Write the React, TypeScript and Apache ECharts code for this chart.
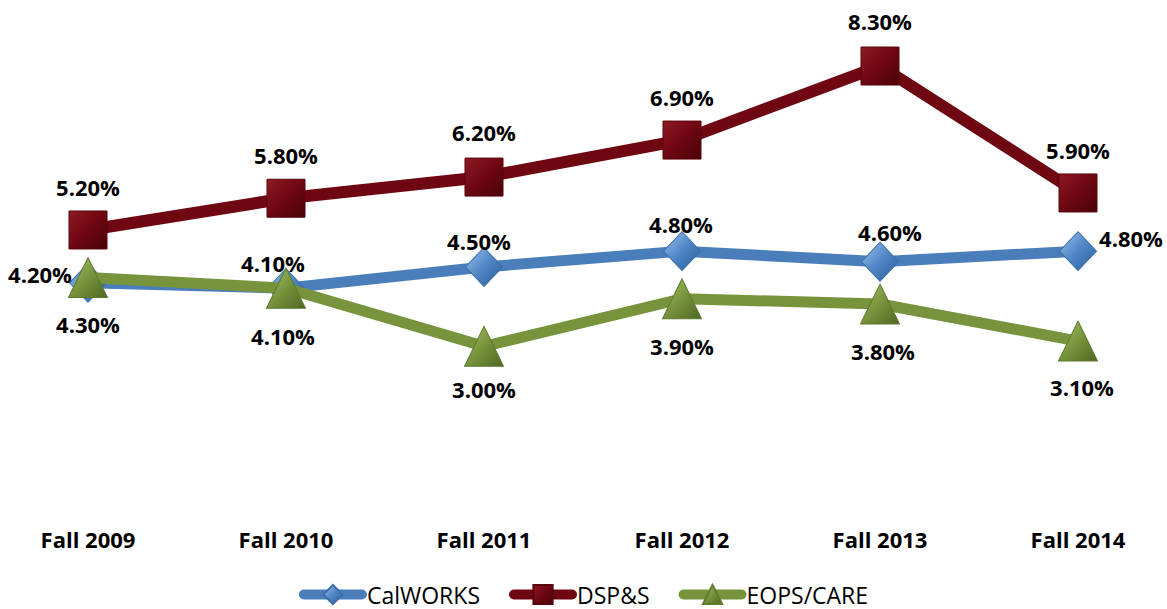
import React, { useEffect, useRef } from "react";
import * as echarts from "echarts";

const categories = ["Fall 2009", "Fall 2010", "Fall 2011", "Fall 2012", "Fall 2013", "Fall 2014"];
const seriesNames = ["CalWORKS", "DSP&S", "EOPS/CARE"];
const calworks = [4.2, 4.1, 4.5, 4.8, 4.6, 4.8];
const dsps = [5.2, 5.8, 6.2, 6.9, 8.3, 5.9];
const eops = [4.3, 4.1, 3.0, 3.9, 3.8, 3.1];

// label offsets (styling, relative to each point)
const calworksLabelOffsets = [[-48, -9], [-13, -25], [-5, -26], [-1, -27], [10, -30], [53, -13]];
const dspsLabelOffsets = [[0, -43], [0, -43], [0, -45], [0, -43], [0, -45], [0, -43]];
const eopsLabelOffsets = [[0, 46], [-3, 48], [0, 43], [0, 47], [3, 47], [4, 46]];

const FONT = "'Open Sans', 'Noto Sans', sans-serif";

function grad(top: string, mid: string, bottom: string) {
  return new echarts.graphic.LinearGradient(0, 0, 1, 1, [
    { offset: 0, color: top },
    { offset: 0.5, color: mid },
    { offset: 1, color: bottom },
  ]);
}

function buildData(values: number[], offsets: number[][]) {
  return values.map((v, i) => ({
    value: v,
    label: { offset: offsets[i] },
  }));
}

export default function App() {
  const ref = useRef<HTMLDivElement>(null);
  useEffect(() => {
    if (!ref.current) return;
    const chart = echarts.init(ref.current, undefined, { renderer: "svg" });
    const labelBase = {
      show: true,
      position: "inside",
      formatter: (p: any) => Number(p.value).toFixed(2) + "%",
      fontFamily: FONT,
      fontWeight: "bold",
      fontSize: 22,
      color: "#000",
    };
    chart.setOption({
      animation: false,
      backgroundColor: "#fff",
      grid: { left: 88, right: 89, top: 29, bottom: 104, containLabel: false },
      xAxis: {
        type: "category",
        data: categories,
        boundaryGap: false,
        axisLine: { show: false },
        axisTick: { show: false },
        axisLabel: {
          margin: 23,
          fontFamily: FONT,
          fontWeight: "bold",
          fontSize: 22,
          color: "#000",
        },
      },
      yAxis: {
        type: "value",
        min: 0,
        max: 9,
        interval: 1,
        show: false,
        splitLine: { show: false },
      },
      legend: {
        data: seriesNames,
        top: 583,
        left: "center",
        padding: 0,
        itemWidth: 58,
        itemHeight: 24,
        itemGap: 29,
        lineStyle: { width: 10, cap: "round" },
        textStyle: { fontFamily: FONT, fontSize: 23, color: "#000" },
      },
      series: [
        {
          name: seriesNames[0],
          type: "line",
          data: buildData(calworks, calworksLabelOffsets),
          symbol: "diamond",
          symbolSize: [37, 39],
          lineStyle: { color: "#4A7EBB", width: 11 },
          itemStyle: { color: grad("#9CC3EE", "#4F86C6", "#2B5C97"), borderColor: "#3B6EA8", borderWidth: 1 },
          label: labelBase,
          z: 2,
        },
        {
          name: seriesNames[1],
          type: "line",
          data: buildData(dsps, dspsLabelOffsets),
          symbol: "rect",
          symbolSize: 38,
          lineStyle: { color: "#6E0711", width: 12 },
          itemStyle: { color: grad("#8E1A24", "#6E0711", "#4A0309"), borderColor: "#5A040C", borderWidth: 1 },
          label: labelBase,
          z: 3,
        },
        {
          name: seriesNames[2],
          type: "line",
          data: buildData(eops, eopsLabelOffsets),
          symbol: "triangle",
          symbolSize: [39, 40],
          lineStyle: { color: "#77933C", width: 11 },
          itemStyle: { color: grad("#A9C46A", "#77933C", "#4F6624"), borderColor: "#5E7A2C", borderWidth: 1 },
          label: labelBase,
          z: 4,
        },
      ],
    });
    return () => chart.dispose();
  }, []);
  return <div ref={ref} style={{ width: 1167, height: 609, position: "absolute", left: 0, top: 0 }} />;
}
